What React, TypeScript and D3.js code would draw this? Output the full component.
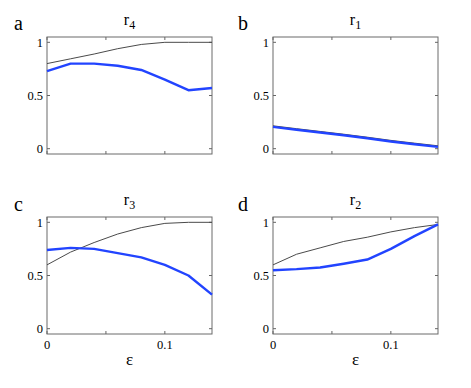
import { useEffect, useRef } from "react";
import * as d3 from "d3";

const eps = [0, 0.02, 0.04, 0.06, 0.08, 0.1, 0.12, 0.14];

const grayA = [0.8, 0.845, 0.89, 0.94, 0.98, 1.0, 1.0, 1.0];
const blueA = [0.73, 0.8, 0.8, 0.78, 0.74, 0.65, 0.55, 0.57];

const grayB = [0.215, 0.188, 0.162, 0.136, 0.108, 0.078, 0.052, 0.027];
const blueB = [0.205, 0.178, 0.152, 0.126, 0.098, 0.068, 0.042, 0.017];

const grayC = [0.6, 0.72, 0.81, 0.89, 0.95, 0.99, 1.0, 1.0];
const blueC = [0.74, 0.76, 0.75, 0.71, 0.67, 0.6, 0.5, 0.32];

const grayD = [0.6, 0.7, 0.76, 0.82, 0.86, 0.91, 0.95, 0.98];
const blueD = [0.55, 0.56, 0.575, 0.61, 0.65, 0.75, 0.87, 0.98];

const yTicks = [0, 0.5, 1];
const xTicks = [0, 0.05, 0.1];
const xTickLabels = ["0", "", "0.1"];

const panels = [
  { letter: "a", sub: "4", left: 47, top: 37, gray: grayA, blue: blueA, xlab: false },
  { letter: "b", sub: "1", left: 273, top: 37, gray: grayB, blue: blueB, xlab: false },
  { letter: "c", sub: "3", left: 47, top: 217, gray: grayC, blue: blueC, xlab: true },
  { letter: "d", sub: "2", left: 273, top: 217, gray: grayD, blue: blueD, xlab: true },
];

const W = 165;
const H = 117;
const serif = "'Liberation Serif', 'DejaVu Serif', serif";

export default function App() {
  const ref = useRef<SVGSVGElement>(null);

  useEffect(() => {
    const svg = d3.select(ref.current);
    svg.selectAll("*").remove();

    const x = d3.scaleLinear().domain([0, 0.14]).range([0, W]);
    const y = d3.scaleLinear().domain([-0.05, 1.05]).range([H, 0]);

    panels.forEach((p) => {
      const g = svg.append("g").attr("transform", `translate(${p.left},${p.top})`);

      // frame
      g.append("rect")
        .attr("x", 0).attr("y", 0).attr("width", W).attr("height", H)
        .attr("fill", "white").attr("stroke", "#6a6a6a").attr("stroke-width", 1);

      // inward ticks
      yTicks.forEach((t) => {
        g.append("line").attr("x1", 0).attr("x2", 3).attr("y1", y(t)).attr("y2", y(t)).attr("stroke", "#666");
        g.append("line").attr("x1", W - 3).attr("x2", W).attr("y1", y(t)).attr("y2", y(t)).attr("stroke", "#666");
        g.append("text")
          .attr("x", -4).attr("y", y(t)).attr("dy", "0.35em")
          .attr("text-anchor", "end")
          .style("font-family", serif).style("font-size", "12.5px")
          .text(String(t));
      });
      xTicks.forEach((t, i) => {
        g.append("line").attr("x1", x(t)).attr("x2", x(t)).attr("y1", H).attr("y2", H - 3).attr("stroke", "#666");
        g.append("line").attr("x1", x(t)).attr("x2", x(t)).attr("y1", 0).attr("y2", 3).attr("stroke", "#666");
        if (p.xlab && xTickLabels[i]) {
          g.append("text")
            .attr("x", x(t)).attr("y", H + 15)
            .attr("text-anchor", "middle")
            .style("font-family", serif).style("font-size", "12.5px")
            .text(xTickLabels[i]);
        }
      });

      const line = d3.line<number>()
        .x((_, i) => x(eps[i]))
        .y((d) => y(d));

      g.append("path").attr("d", line(p.gray)).attr("fill", "none")
        .attr("stroke", "#4a4a4a").attr("stroke-width", 1);
      g.append("path").attr("d", line(p.blue)).attr("fill", "none")
        .attr("stroke", "#2244ff").attr("stroke-width", 2.4)
        .attr("stroke-linejoin", "round");

      // title r_n
      const title = g.append("text")
        .attr("x", W / 2).attr("y", -12)
        .attr("text-anchor", "middle")
        .style("font-family", serif).style("font-size", "16px");
      title.append("tspan").text("r");
      title.append("tspan").attr("dy", 4).style("font-size", "12px").text(p.sub);

      // panel letter
      g.append("text")
        .attr("x", p.letter === "a" || p.letter === "c" ? -33 : -35)
        .attr("y", p.top < 100 ? -7 : -6)
        .style("font-family", serif).style("font-size", "20px")
        .text(p.letter);

      if (p.xlab) {
        g.append("text")
          .attr("x", W / 2).attr("y", H + 31)
          .attr("text-anchor", "middle")
          .style("font-family", serif).style("font-size", "17px")
          .text("ε");
      }
    });
  }, []);

  return (
    <svg
      ref={ref}
      width={471}
      height={388}
      style={{ position: "absolute", left: 0, top: 0, background: "white" }}
    />
  );
}
